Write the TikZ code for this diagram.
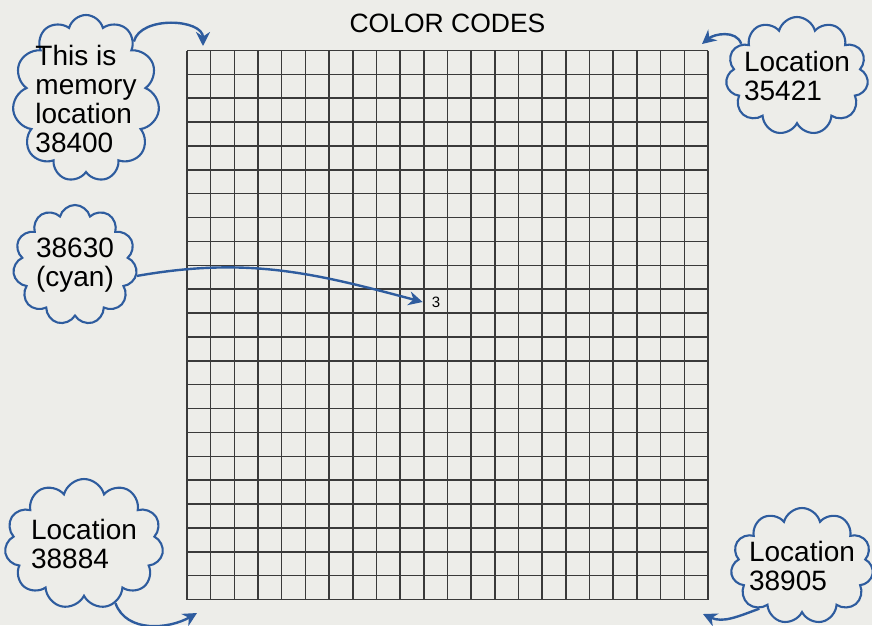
\documentclass[tikz,border=0pt]{standalone}
\usepackage{fontspec}
\setmainfont{Liberation Sans}
\usetikzlibrary{positioning,arrows.meta,shapes.symbols}
\definecolor{paper}{HTML}{EDEDE9}
\definecolor{ink}{HTML}{2E5C9E}
\definecolor{rule}{HTML}{3A3A3A}

\begin{document}
\begin{tikzpicture}[
  x=1pt, y=1pt,
  bubble/.style={cloud, cloud puffs=11, cloud ignores aspect, draw=ink, line width=2.1pt, align=left, inner sep=0pt, font=\fontsize{28}{29}\selectfont},
  arr/.style={-{Stealth[length=14pt, width=14pt]}, ink, line width=2.4pt},
  gridline/.style={rule, line width=1.5pt},
  node distance=1cm]

\fill[paper] (0,0) rectangle (872,-625);
\useasboundingbox (0,0) rectangle (872,-625);

\foreach \c in {0,...,22}
  \draw[gridline] (187+\c*23.68,-50.5) -- (187+\c*23.68,-599.5);
\foreach \r in {0,...,23}
  \draw[gridline] (187,-50.5-\r*23.87) -- (708,-50.5-\r*23.87);

\coordinate (nw) at (187,-50.5);
\coordinate (ne) at (708,-50.5);
\coordinate (sw) at (187,-599.5);
\coordinate (se) at (708,-599.5);
\coordinate (top) at (447.5,-50.5);

\node[above=17.5pt of top, inner sep=0pt, font=\fontsize{26.5}{30}\selectfont] (title) {COLOR CODES};
\node[inner xsep=9pt, font=\fontsize{15}{16}\selectfont] (cell) at (436,-302) {3};

\node[bubble, inner xsep=-8pt, inner ysep=-3pt, minimum width=147pt, minimum height=167pt] (mem) at (86,-98.5) {This is\\memory\\location\\38400};
\node[bubble, inner xsep=-6pt, minimum width=140pt, minimum height=118pt] (loc1) at (797,-76) {Location\\35421};
\node[bubble, minimum width=124pt, minimum height=120pt] (cyan) at (75,-265) {38630\\(cyan)};
\node[bubble, minimum width=153pt, minimum height=130pt] (loc2) at (84,-544) {Location\\38884};
\node[bubble, inner xsep=-6pt, minimum width=137pt, minimum height=116pt] (loc3) at (802,-566) {Location\\38905};

\coordinate[above right=4.5pt and 16pt of nw] (to-nw);
\coordinate[above left=6.5pt and 6pt of ne] (to-ne);
\coordinate[below right=13.5pt and 10pt of sw] (to-sw);
\coordinate[below left=14.5pt and 5pt of se] (to-se);

\draw[arr] (mem.50) to[out=75, in=90] (to-nw);
\draw[arr] (loc1.150) to[out=110, in=40] (to-ne);
\draw[arr] (cyan.-10) to[out=10, in=165] (cell.west);
\draw[arr] (loc2.-62) to[out=-70, in=210] (to-sw);
\draw[arr] (loc3.225) to[out=200, in=-25] (to-se);
\end{tikzpicture}
\end{document}
